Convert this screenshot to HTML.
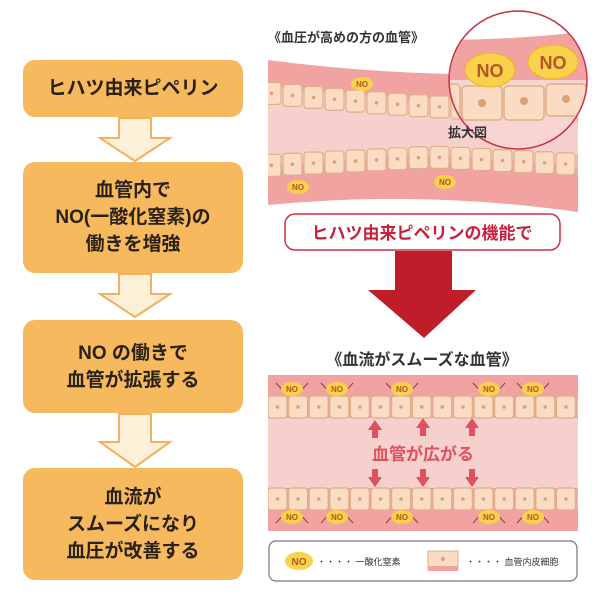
<!DOCTYPE html>
<html><head><meta charset="utf-8"><style>
html,body{margin:0;padding:0;background:#fff;width:600px;height:609px;overflow:hidden}
body{position:relative;font-family:"Liberation Sans","Noto Sans CJK JP",sans-serif}
.box{position:absolute;left:23px;width:220px;background:#f7b95e;border-radius:12px;display:flex;align-items:center;justify-content:center;text-align:center;font-weight:bold;color:#2a2118;font-size:19px;line-height:27px}
svg{position:absolute;left:0;top:0}
</style></head><body>
<div class="box" style="top:60px;height:57px">ヒハツ由来ピペリン</div>
<div class="box" style="top:162px;height:111px">血管内で<br>NO(一酸化窒素)の<br>働きを増強</div>
<div class="box" style="top:320px;height:93px">NO の働きで<br>血管が拡張する</div>
<div class="box" style="top:468px;height:112px">血流が<br>スムーズになり<br>血圧が改善する</div>
<svg width="600" height="609" xmlns="http://www.w3.org/2000/svg">
<defs><clipPath id="vc"><rect x="268" y="0" width="310" height="609"/></clipPath></defs>
<g fill="#fdf0d8" stroke="#f2b060" stroke-width="2">
<path d="M119,118 H151 V138 H170 L135,161 L100,138 H119 Z"/>
<path d="M119,274 H151 V294 H170 L135,317 L100,294 H119 Z"/>
<path d="M119,414 H151 V442 H170 L135,467 L100,442 H119 Z"/>
</g>
<text x="268" y="42" font-size="13" font-weight="bold" fill="#333">《血圧が高めの方の血管》</text>
<path d="M268,60 Q420,80 578,72 L578,212 Q420,190 268,205 Z" fill="#f0a3a0"/>
<path d="M268,86 Q420,104 578,100 L578,168 Q420,146 268,168 Z" fill="#f6d0cd"/>
<g id="v1" clip-path="url(#vc)"></g>
<circle cx="518" cy="80" r="69" fill="#f2b7b5" stroke="#c8334a" stroke-width="1.5"/>
<clipPath id="cc"><circle cx="518" cy="80" r="68"/></clipPath>
<g clip-path="url(#cc)">
<rect x="440" y="0" width="160" height="160" fill="#f7d4d2"/>
<path d="M440,0 H600 V30 Q520,40 440,40 Z" fill="#fff"/>
<path d="M440,40 Q520,40 600,30 V80 H440 Z" fill="#f0a3a0"/>
<g fill="#f9dcc3" stroke="#dfae86" stroke-width="1.5">
<rect x="440" y="84" width="20" height="32" rx="4"/>
<rect x="462" y="86" width="40" height="34" rx="4"/>
<rect x="504" y="86" width="40" height="34" rx="4"/>
<rect x="546" y="84" width="40" height="32" rx="4"/>
</g>
<g fill="#d9a27a"><circle cx="482" cy="103" r="4"/><circle cx="524" cy="101" r="4"/><circle cx="566" cy="99" r="4"/></g>
</g>
<g font-weight="bold" fill="#b8552a" font-size="18">
<ellipse cx="490" cy="70" rx="25" ry="17" fill="#f8d24a" stroke="#f0b020"/><text x="490" y="77" text-anchor="middle">NO</text>
<ellipse cx="553" cy="62" rx="25" ry="17" fill="#f8d24a" stroke="#f0b020"/><text x="553" y="69" text-anchor="middle">NO</text>
</g>
<text x="448" y="137" font-size="13" font-weight="bold" fill="#333">拡大図</text>
<g font-size="8" font-weight="bold" fill="#b8552a" text-anchor="middle">
<ellipse cx="362" cy="84" rx="11" ry="7" fill="#f8d24a"/><text x="362" y="87">NO</text>
<ellipse cx="298" cy="187" rx="11" ry="7" fill="#f8d24a"/><text x="298" y="190">NO</text>
<ellipse cx="445" cy="182" rx="11" ry="7" fill="#f8d24a"/><text x="445" y="185">NO</text>
</g>
<rect x="285" y="214" width="275" height="36" rx="10" fill="#fff" stroke="#c8334a" stroke-width="1.5"/>
<text x="422" y="239" text-anchor="middle" font-size="17" font-weight="bold" fill="#c8203a">ヒハツ由来ピペリンの機能で</text>
<path d="M395,251 H452 V290 H476 L424,338 L368,290 H395 Z" fill="#c01d2a"/>
<text x="422" y="365" text-anchor="middle" font-size="16" font-weight="bold" fill="#333">《血流がスムーズな血管》</text>
<rect x="268" y="375" width="310" height="156" fill="#f0a3a0"/>
<rect x="268" y="418" width="310" height="70" fill="#f6d0cd"/>
<g id="v2" clip-path="url(#vc)"></g>
<text x="423" y="460" text-anchor="middle" font-size="17" font-weight="bold" fill="#e0505e">血管が広がる</text>
<g fill="#e0505e">
<path d="M375,420 L382,430 H378 V438 H372 V430 H368 Z"/><path d="M423,418 L430,428 H426 V436 H420 V428 H416 Z"/><path d="M472,418 L479,428 H475 V436 H469 V428 H465 Z"/>
<path d="M375,487 L382,477 H378 V469 H372 V477 H368 Z"/><path d="M423,487 L430,477 H426 V469 H420 V477 H416 Z"/><path d="M472,487 L479,477 H475 V469 H469 V477 H465 Z"/>
</g>
<rect x="269" y="541" width="308" height="40" rx="7" fill="#fff" stroke="#777" stroke-width="1.2"/>
<ellipse cx="299" cy="561" rx="14" ry="9" fill="#f8d24a"/><text x="299" y="565" text-anchor="middle" font-size="10" font-weight="bold" fill="#b8552a">NO</text>
<text x="317" y="565" font-size="9" fill="#333">・・・・ 一酸化窒素</text>
<rect x="428" y="551" width="30" height="18" fill="#f9dcc3" stroke="#dfae86"/><rect x="428" y="566" width="30" height="5" fill="#f0a3a0"/><circle cx="443" cy="559" r="2" fill="#d9a27a"/>
<text x="466" y="565" font-size="9" fill="#333">・・・・ 血管内皮細胞</text>
</svg>
<script>
var h="";
function cell(x,y,w,hh){return '<rect x="'+x+'" y="'+y+'" width="'+w+'" height="'+hh+'" rx="3" fill="#f9dcc3" stroke="#dfae86" stroke-width="1.2"/><circle cx="'+(x+w/2)+'" cy="'+(y+hh/2)+'" r="1.8" fill="#d9a27a"/>';}
for(var x=262;x<580;x+=21){var t=(x-268)/310;var yt=83+t*17+Math.sin(t*Math.PI)*4;h+=cell(x,yt,19,22);var yb=148+8*Math.abs(2*t-1)-2;h+=cell(x,yb,19,22);}
document.getElementById("v1").innerHTML=h;
h="";
for(var x=268;x<578;x+=20.6){h+=cell(x,396,19,22);h+=cell(x,488,19,22);}
function no(cx,cy,up){var s='<line x1="'+(cx-16)+'" y1="'+(cy+(up?-6:6))+'" x2="'+(cx-5)+'" y2="'+(cy+(up?6:-6))+'" stroke="#8a3a3a" stroke-width="1"/><line x1="'+(cx+16)+'" y1="'+(cy+(up?-6:6))+'" x2="'+(cx+5)+'" y2="'+(cy+(up?6:-6))+'" stroke="#8a3a3a" stroke-width="1"/>';
s+='<ellipse cx="'+cx+'" cy="'+cy+'" rx="11" ry="7" fill="#f8d24a"/><text x="'+cx+'" y="'+(cy+3)+'" text-anchor="middle" font-size="8" font-weight="bold" fill="#b8552a">NO</text>';return s;}
[292,337,402,489,533].forEach(function(c){h+=no(c,389,true);h+=no(c,517,false);});
document.getElementById("v2").innerHTML=h;
</script>
</body></html>
